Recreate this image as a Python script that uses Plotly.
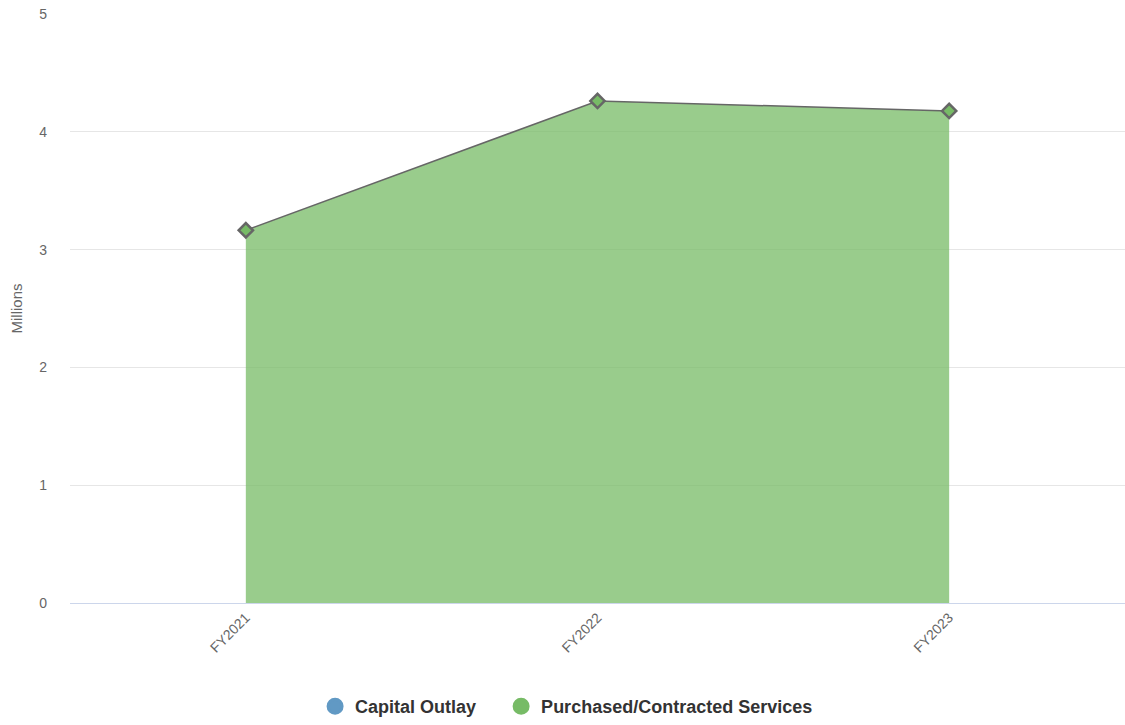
import plotly.graph_objects as go

categories = ["FY2021", "FY2022", "FY2023"]
capital_outlay = [None, None, None]
purchased_services = [3.164, 4.262, 4.177]
y_ticks = [0, 1, 2, 3, 4, 5]

blue = "#6199c4"
green = "#77bb66"

fig = go.Figure()

fig.add_trace(go.Scatter(
    x=categories, y=capital_outlay, mode="lines+markers",
    line=dict(color="#666666", width=1.5), fill="tozeroy",
    fillcolor="rgba(97,153,196,0.75)", showlegend=False, hoverinfo="skip"))

fig.add_trace(go.Scatter(
    x=categories, y=purchased_services, mode="lines+markers",
    line=dict(color="#666666", width=1.5),
    fill="tozeroy", fillcolor="rgba(119,187,102,0.75)",
    marker=dict(symbol="diamond", size=11, color=green,
                line=dict(color="#666666", width=2.5)),
    showlegend=False))

# legend entries
fig.add_trace(go.Scatter(x=[None], y=[None], mode="markers",
                         name="Capital Outlay\u00a0\u00a0\u00a0\u00a0",
                         marker=dict(symbol="circle", size=14, color=blue,
                                     line=dict(color=blue, width=3))))
fig.add_trace(go.Scatter(x=[None], y=[None], mode="markers", name="Purchased/Contracted Services",
                         marker=dict(symbol="circle", size=14, color=green,
                                     line=dict(color=green, width=3))))

fig.update_layout(
    autosize=False,
    width=1125, height=725,
    margin=dict(l=70, r=0, t=14, b=116),
    plot_bgcolor="white", paper_bgcolor="white",
    font=dict(family="Liberation Sans, Arial, sans-serif", color="#666666", size=14),
    legend=dict(orientation="h", x=0.4707, xanchor="center", y=-0.1757, yanchor="middle",
                font=dict(size=18, color="#333333", family="Liberation Sans, Arial, sans-serif",
                          weight="bold"),
                itemsizing="trace", tracegroupgap=0),
    xaxis=dict(type="category", categoryorder="array", categoryarray=categories,
               range=[-0.5, 2.5], tickangle=-45, showgrid=False,
               showline=True, linecolor="#ccd6eb", linewidth=1, ticks="",
               tickfont=dict(size=14, color="#666666"), zeroline=False),
    yaxis=dict(range=[0, 5], tickvals=y_ticks, showgrid=True, gridcolor="#e6e6e6",
               gridwidth=1, zeroline=True, zerolinecolor="#ccd6eb", zerolinewidth=1,
               ticklabeloverflow="allow",
               tickfont=dict(size=14, color="#666666"), ticklabelstandoff=22,
               title=dict(text="Millions", font=dict(size=15, color="#666666"), standoff=12)),
)

fig.write_html("out.html", config={"displayModeBar": False},
               post_script="document.body.style.margin='0';document.body.style.overflow='hidden';")
